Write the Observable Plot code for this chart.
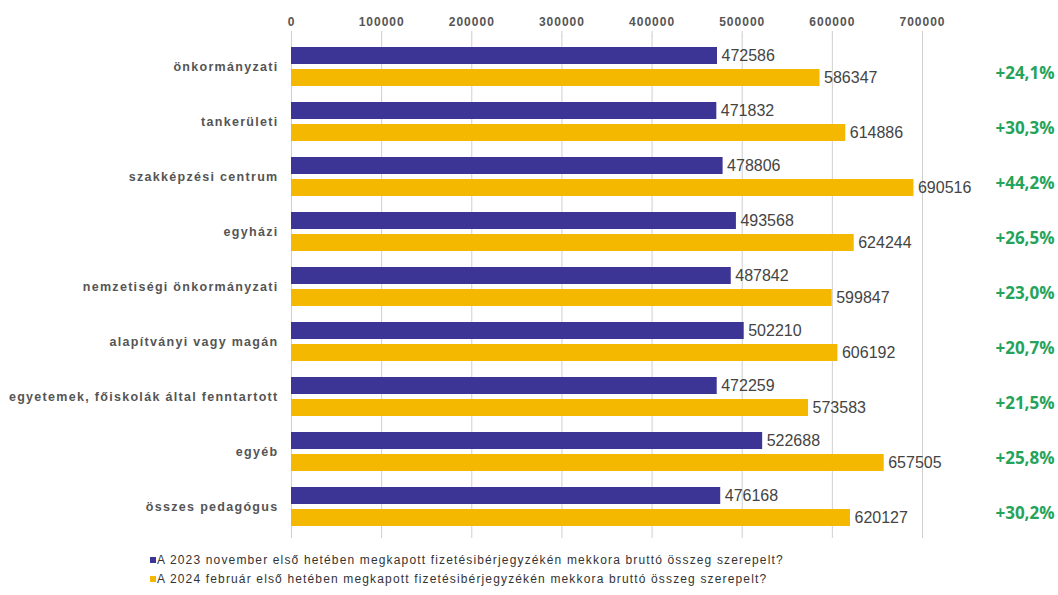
<!DOCTYPE html>
<html><head><meta charset="utf-8">
<script src="https://cdn.jsdelivr.net/npm/d3@7"></script>
<script src="https://cdn.jsdelivr.net/npm/@observablehq/plot@0.6"></script>
<style>
body{margin:0;background:#fff;font-family:"Liberation Sans",Arial,sans-serif}
#legend{margin-left:150px;padding-top:3px;font-size:12px;color:#333;letter-spacing:1.15px;line-height:19px}
.sw{display:inline-block;width:6px;height:6px;margin-right:1px;vertical-align:1px}
svg g[aria-label="y-axis tick label"] text{letter-spacing:1.3px}
svg g[aria-label="x-axis tick label"] text{letter-spacing:1px}
</style></head><body>
<div id="chart"></div>
<div id="legend"></div>
<script>
const categories = ["önkormányzati","tankerületi","szakképzési centrum","egyházi","nemzetiségi önkormányzati","alapítványi vagy magán","egyetemek, főiskolák által fenntartott","egyéb","összes pedagógus"];
const values2023 = [472586,471832,478806,493568,487842,502210,472259,522688,476168];
const values2024 = [586347,614886,690516,624244,599847,606192,573583,657505,620127];
const changes = ["+24,1%","+30,3%","+44,2%","+26,5%","+23,0%","+20,7%","+21,5%","+25,8%","+30,2%"];
const seriesNames = ["A 2023 november első hetében megkapott fizetésibérjegyzékén mekkora bruttó összeg szerepelt?","A 2024 február első hetében megkapott fizetésibérjegyzékén mekkora bruttó összeg szerepelt?"];
const colors = ["#3c3596","#f5b800"];
const xTicks = [0,100000,200000,300000,400000,500000,600000,700000];

const rows2023 = categories.map((c,i)=>({category:c, value:values2023[i]}));
const rows2024 = categories.map((c,i)=>({category:c, value:values2024[i]}));
const changeRows = categories.map((c,i)=>({category:c, change:changes[i]}));

const font = "Liberation Sans, Arial, sans-serif";
const chart = Plot.plot({
  width:1058, height:548,
  marginTop:36, marginLeft:291, marginRight:136, marginBottom:10,
  style:{fontFamily:font, background:"#fff"},
  x:{domain:[0,700000]},
  y:{domain:categories, paddingInner:0.284, paddingOuter:0.132},
  marks:[
    Plot.gridX(xTicks,{stroke:"#cfcfcf", strokeOpacity:1}),
    Plot.axisX(xTicks,{anchor:"top", tickFormat:d3.format("d"), tickSize:6, tickPadding:5, stroke:"#cfcfcf", fill:"#555", fontSize:12, fontWeight:"bold", label:null}),
    Plot.axisY({anchor:"left", tickSize:0, tickPadding:13, fill:"#555", fontSize:12.5, fontWeight:"bold", label:null}),
    Plot.barX(rows2023,{x:"value", y:"category", fill:colors[0], insetBottom:22}),
    Plot.barX(rows2024,{x:"value", y:"category", fill:colors[1], insetTop:22}),
    Plot.text(rows2023,{x:"value", y:"category", text:d=>String(d.value), textAnchor:"start", dx:4, dy:-11, fontSize:16, fill:"#444"}),
    Plot.text(rows2024,{x:"value", y:"category", text:d=>String(d.value), textAnchor:"start", dx:4, dy:11, fontSize:16, fill:"#444"}),
    Plot.text(changeRows,{y:"category", frameAnchor:"right", text:"change", textAnchor:"end", dx:132, dy:7, fontSize:17, fontWeight:"bold", fill:"#25a35a", fontFamily:"Open Sans, sans-serif"})
  ]
});
document.getElementById("chart").appendChild(chart);
document.getElementById("legend").innerHTML = seriesNames.map((s,i)=>`<div><span class="sw" style="background:${colors[i]}"></span>${s}</div>`).join("");
</script>
</body></html>
